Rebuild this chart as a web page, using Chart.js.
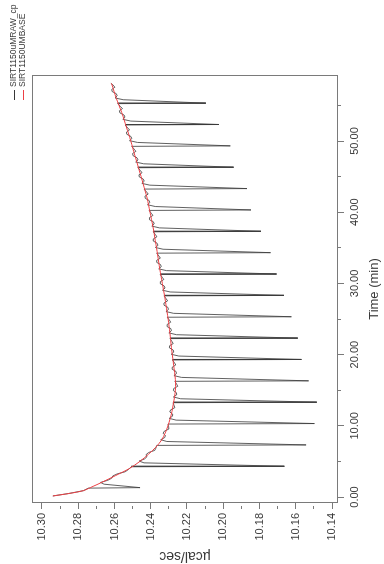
<!DOCTYPE html>
<html>
<head>
<meta charset="utf-8">
<script src="https://cdn.jsdelivr.net/npm/chart.js@4/dist/chart.umd.min.js"></script>
<style>
  html, body { margin: 0; padding: 0; background: #fff; overflow: hidden; }
  body { width: 384px; height: 564px; position: relative; }
  /* chart is drawn landscape and turned a quarter turn, like the scanned plot */
  #wrap {
    position: absolute; left: 0; top: 0;
    width: 564px; height: 384px;
    transform-origin: 0 0;
    transform: translateY(564px) rotate(-90deg);
  }
</style>
</head>
<body>
<div id="wrap"><canvas id="itcChart" width="564" height="384"></canvas></div>
<script>
// raw thermogram (time in min, signal in µcal/sec)
const rawTime = [
    0.15, 0.5, 0.9,
    1.25, 1.32, 1.80, 2.05, 2.35, 2.65, 2.95, 3.25, 3.55, 3.85,
    4.25, 4.32, 4.80, 5.05, 5.35, 5.65, 5.95, 6.25, 6.55, 6.85,
    7.25, 7.32, 7.80, 8.05, 8.35, 8.65, 8.95, 9.25, 9.55, 9.85,
    10.25, 10.32, 10.80, 11.05, 11.35, 11.65, 11.95, 12.25, 12.55, 12.85,
    13.25, 13.32, 13.80, 14.05, 14.35, 14.65, 14.95, 15.25, 15.55, 15.85,
    16.25, 16.32, 16.80, 17.05, 17.35, 17.65, 17.95, 18.25, 18.55, 18.85,
    19.25, 19.32, 19.80, 20.05, 20.35, 20.65, 20.95, 21.25, 21.55, 21.85,
    22.25, 22.32, 22.80, 23.05, 23.35, 23.65, 23.95, 24.25, 24.55, 24.85,
    25.25, 25.32, 25.80, 26.05, 26.35, 26.65, 26.95, 27.25, 27.55, 27.85,
    28.25, 28.32, 28.80, 29.05, 29.35, 29.65, 29.95, 30.25, 30.55, 30.85,
    31.25, 31.32, 31.80, 32.05, 32.35, 32.65, 32.95, 33.25, 33.55, 33.85,
    34.25, 34.32, 34.80, 35.05, 35.35, 35.65, 35.95, 36.25, 36.55, 36.85,
    37.25, 37.32, 37.80, 38.05, 38.35, 38.65, 38.95, 39.25, 39.55, 39.85,
    40.25, 40.32, 40.80, 41.05, 41.35, 41.65, 41.95, 42.25, 42.55, 42.85,
    43.25, 43.32, 43.80, 44.05, 44.35, 44.65, 44.95, 45.25, 45.55, 45.85,
    46.25, 46.32, 46.80, 47.05, 47.35, 47.65, 47.95, 48.25, 48.55, 48.85,
    49.25, 49.32, 49.80, 50.05, 50.35, 50.65, 50.95, 51.25, 51.55, 51.85,
    52.25, 52.32, 52.80, 53.05, 53.35, 53.65, 53.95, 54.25, 54.55, 54.85,
    55.25, 55.32, 55.80, 56.05, 56.35, 56.65, 56.95, 57.25, 57.55, 57.85, 58.1
];
const rawSignal = [
    10.2940, 10.2852, 10.2770,
    10.2745, 10.2459, 10.2657, 10.2677, 10.2637, 10.2615, 10.2610, 10.2585, 10.2541, 10.2524,
    10.2507, 10.1663, 10.2437, 10.2464, 10.2434, 10.2421, 10.2426, 10.2412, 10.2378, 10.2372,
    10.2367, 10.1543, 10.2311, 10.2345, 10.2323, 10.2319, 10.2332, 10.2325, 10.2300, 10.2301,
    10.2305, 10.1497, 10.2260, 10.2298, 10.2280, 10.2279, 10.2295, 10.2290, 10.2267, 10.2271,
    10.2277, 10.1484, 10.2235, 10.2275, 10.2257, 10.2258, 10.2275, 10.2273, 10.2251, 10.2257,
    10.2267, 10.1529, 10.2230, 10.2272, 10.2258, 10.2261, 10.2282, 10.2281, 10.2262, 10.2269,
    10.2280, 10.1569, 10.2245, 10.2287, 10.2273, 10.2276, 10.2297, 10.2296, 10.2276, 10.2283,
    10.2294, 10.1589, 10.2258, 10.2300, 10.2286, 10.2289, 10.2310, 10.2309, 10.2290, 10.2297,
    10.2309, 10.1624, 10.2274, 10.2316, 10.2302, 10.2306, 10.2327, 10.2327, 10.2307, 10.2315,
    10.2327, 10.1665, 10.2293, 10.2335, 10.2321, 10.2326, 10.2347, 10.2347, 10.2328, 10.2336,
    10.2348, 10.1706, 10.2314, 10.2356, 10.2342, 10.2346, 10.2367, 10.2367, 10.2347, 10.2355,
    10.2367, 10.1739, 10.2332, 10.2374, 10.2360, 10.2365, 10.2386, 10.2386, 10.2366, 10.2374,
    10.2386, 10.1792, 10.2352, 10.2394, 10.2381, 10.2385, 10.2407, 10.2407, 10.2388, 10.2397,
    10.2409, 10.1847, 10.2375, 10.2418, 10.2405, 10.2409, 10.2430, 10.2432, 10.2414, 10.2423,
    10.2437, 10.1869, 10.2405, 10.2449, 10.2436, 10.2441, 10.2463, 10.2465, 10.2448, 10.2457,
    10.2471, 10.1943, 10.2439, 10.2483, 10.2470, 10.2476, 10.2498, 10.2500, 10.2482, 10.2491,
    10.2505, 10.1961, 10.2473, 10.2517, 10.2504, 10.2510, 10.2532, 10.2534, 10.2517, 10.2527,
    10.2541, 10.2024, 10.2510, 10.2554, 10.2542, 10.2547, 10.2570, 10.2573, 10.2556, 10.2567,
    10.2582, 10.2096, 10.2552, 10.2597, 10.2585, 10.2590, 10.2613, 10.2615, 10.2598, 10.2607, 10.2620
];

// fitted baseline
const baseTime = [
    0.15, 0.5, 0.9, 1.5, 2, 3, 4, 5, 6, 7, 8, 9, 10, 11, 12, 13, 14, 15, 16, 17, 18, 19,
    20, 21, 22, 23, 24, 25, 26, 27, 28, 29, 30, 31, 32, 33, 34, 35, 36, 37, 38, 39,
    40, 41, 42, 43, 44, 45, 46, 47, 48, 49, 50, 51, 52, 53, 54, 55, 56, 57, 58, 58.1
];
const baseSignal = [
    10.2940, 10.2850, 10.2772, 10.2718, 10.2675, 10.2595, 10.2518, 10.2460, 10.2413, 10.2372,
    10.2340, 10.2320, 10.2305, 10.2293, 10.2283, 10.2276, 10.2269, 10.2264, 10.2263, 10.2266,
    10.2271, 10.2276, 10.2281, 10.2286, 10.2290, 10.2294, 10.2299, 10.2304, 10.2310, 10.2316,
    10.2322, 10.2329, 10.2336, 10.2343, 10.2350, 10.2356, 10.2362, 10.2368, 10.2375, 10.2381,
    10.2388, 10.2396, 10.2404, 10.2412, 10.2420, 10.2431, 10.2442, 10.2453, 10.2465, 10.2476,
    10.2488, 10.2499, 10.2510, 10.2522, 10.2535, 10.2547, 10.2560, 10.2575, 10.2590, 10.2603,
    10.2615, 10.2617
];

const timeTickValues = [0, 5, 10, 15, 20, 25, 30, 35, 40, 45, 50, 55];
const timeTickLabels = ['0.00', '', '10.00', '', '20.00', '', '30.00', '', '40.00', '', '50.00', ''];
const signalTickValues = [10.14, 10.15, 10.16, 10.17, 10.18, 10.19, 10.20, 10.21, 10.22,
    10.23, 10.24, 10.25, 10.26, 10.27, 10.28, 10.29, 10.30];
const signalTickLabels = ['10.14', '', '10.16', '', '10.18', '', '10.20', '', '10.22',
    '', '10.24', '', '10.26', '', '10.28', '', '10.30'];

const seriesNames = ['SIRT1150uMRAW_cp', 'SIRT1150UMBASE'];
const seriesColors = ['#383838', '#ec4045'];

const FONT = '"Liberation Sans", Arial, sans-serif';
const AXIS_GREY = '#7a7a7a';
const TEXT_GREY = '#3a3a3a';

// frame round the plot area
const plotBox = {
    id: 'plotBox',
    afterDraw(chart) {
        const {ctx, chartArea: a} = chart;
        ctx.save();
        ctx.strokeStyle = AXIS_GREY;
        ctx.lineWidth = 1;
        ctx.strokeRect(Math.round(a.left) + 0.5, Math.round(a.top) + 0.5,
            Math.round(a.right - a.left) - 1, Math.round(a.bottom - a.top) - 1);
        ctx.restore();
    }
};

// small legend in the top right corner
const cornerLegend = {
    id: 'cornerLegend',
    afterDraw(chart) {
        const ctx = chart.ctx;
        ctx.save();
        ctx.font = '8.5px ' + FONT;
        ctx.textBaseline = 'middle';
        seriesNames.forEach((name, i) => {
            const y = 14 + i * 9;
            ctx.strokeStyle = seriesColors[i];
            ctx.lineWidth = 1;
            ctx.beginPath();
            ctx.moveTo(464, y + 0.5);
            ctx.lineTo(474, y + 0.5);
            ctx.stroke();
            ctx.fillStyle = TEXT_GREY;
            ctx.fillText(name, 477, y);
        });
        ctx.restore();
    }
};

function minorDash(c) {
    return c.index % 2 ? [3, 20] : [];
}

const ctx = document.getElementById('itcChart').getContext('2d');
const itcChart = new Chart(ctx, {
    type: 'scatter',
    data: {
        datasets: [
            {
                label: seriesNames[1],
                data: baseTime.map((t, i) => ({x: t, y: baseSignal[i]})),
                showLine: true,
                borderColor: seriesColors[1],
                borderWidth: 1,
                pointRadius: 0,
                tension: 0.3,
                order: 0
            },
            {
                label: seriesNames[0],
                data: rawTime.map((t, i) => ({x: t, y: rawSignal[i]})),
                showLine: true,
                borderColor: seriesColors[0],
                borderWidth: 0.8,
                pointRadius: 0,
                order: 1
            }
        ]
    },
    options: {
        responsive: false,
        animation: false,
        devicePixelRatio: 1,
        layout: {
            padding: {top: 32, right: 75, bottom: 0, left: 0}
        },
        plugins: {
            legend: {display: false},
            tooltip: {enabled: false}
        },
        scales: {
            x: {
                type: 'linear',
                position: 'bottom',
                min: -0.84,
                max: 59.27,
                afterBuildTicks: s => { s.ticks = timeTickValues.map(v => ({value: v})); },
                afterFit: s => { s.height = 46; },
                border: {display: false},
                grid: {
                    drawOnChartArea: false,
                    tickLength: 6,
                    tickColor: AXIS_GREY,
                    tickBorderDash: minorDash
                },
                ticks: {
                    autoSkip: false,
                    maxRotation: 0,
                    padding: 4,
                    color: TEXT_GREY,
                    font: {family: FONT, size: 11},
                    callback: (v, i) => timeTickLabels[i]
                },
                title: {
                    display: true,
                    text: 'Time (min)',
                    color: TEXT_GREY,
                    font: {family: FONT, size: 13},
                    padding: {top: 0, bottom: 2}
                }
            },
            y: {
                type: 'linear',
                position: 'left',
                min: 10.1367,
                max: 10.3055,
                afterBuildTicks: s => { s.ticks = signalTickValues.map(v => ({value: v})); },
                afterFit: s => { s.width = 61; },
                border: {display: false},
                grid: {
                    drawOnChartArea: false,
                    tickLength: 6,
                    tickColor: AXIS_GREY,
                    tickBorderDash: minorDash
                },
                ticks: {
                    autoSkip: false,
                    padding: 4,
                    color: TEXT_GREY,
                    font: {family: FONT, size: 11},
                    callback: (v, i) => signalTickLabels[i]
                },
                title: {
                    display: true,
                    text: 'µcal/sec',
                    color: TEXT_GREY,
                    font: {family: FONT, size: 14},
                    padding: {top: 0, bottom: 0}
                }
            }
        }
    },
    plugins: [plotBox, cornerLegend]
});
</script>
</body>
</html>
